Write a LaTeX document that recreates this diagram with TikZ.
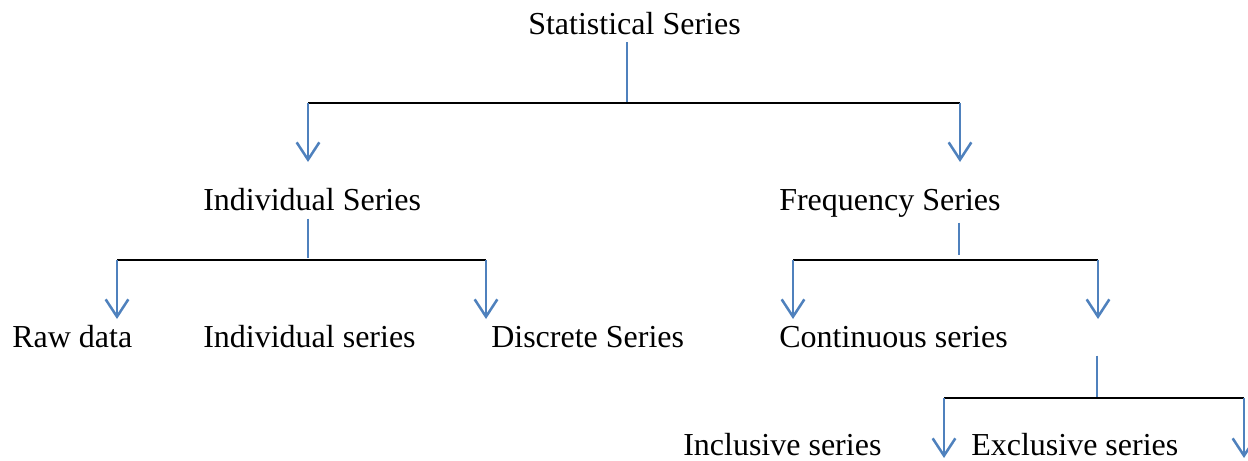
\documentclass[tikz,border=0pt]{standalone}
\usepackage{fontspec}
\setmainfont{Liberation Serif}
\usetikzlibrary{arrows.meta}
\definecolor{lineblue}{HTML}{4F81BD}
\tikzset{
  lbl/.style={anchor=base west, inner sep=0pt, font=\fontsize{24}{28}\selectfont},
  stem/.style={draw=lineblue, line width=1.9pt},
  bar/.style={draw=black, line width=1.5pt},
  down/.style={draw=lineblue, line width=1.9pt, -{Straight Barb[length=13pt,width=17pt]}},
}
\begin{document}
\begin{tikzpicture}[x=0.75pt,y=-0.75pt]
\useasboundingbox (0,0) rectangle (1248,460);
% texts
\node[lbl] (stat) at (528,35) {Statistical Series};
\node[lbl] (indS) at (203,210) {Individual Series};
\node[lbl] (freq) at (779,210) {Frequency Series};
\node[lbl] (raw)  at (12,347) {Raw data};
\node[lbl] (inds) at (203,347) {Individual series};
\node[lbl] (disc) at (491,347) {Discrete Series};
\node[lbl] (cont) at (779,347) {Continuous series};
\node[lbl, text depth=0pt] (incl) at (683,455) {Inclusive series};
\node[lbl, text depth=0pt] (excl) at (971,455) {Exclusive series};
% junction coordinates
\coordinate (j1) at (627,103);
\coordinate (j1l) at (308,103);
\coordinate (j1r) at (960,103);
\coordinate (a1l) at (308,162);
\coordinate (a1r) at (960,162);
\coordinate (j2) at (308,260);
\coordinate (j2l) at (117,260);
\coordinate (j2r) at (486,260);
\coordinate (a2l) at (117,319);
\coordinate (a2r) at (486,319);
\coordinate (j3) at (959,260);
\coordinate (j3l) at (793,260);
\coordinate (j3r) at (1098,260);
\coordinate (a3l) at (793,319);
\coordinate (a3r) at (1098,319);
\coordinate (j4) at (1097,398);
\coordinate (j4l) at (944,398);
\coordinate (j4r) at (1244,398);
\coordinate (a4l) at (944,458);
\coordinate (a4r) at (1244,458);
% level 1
\draw[stem, shorten <=5pt] (stat.south -| j1) -- (j1);
\draw[bar] (j1l) -- (j1r);
\draw[down] (j1l) -- (a1l);
\draw[down] (j1r) -- (a1r);
% level 2 left
\draw[stem, shorten <=6pt] (indS.south -| j2) -- ([yshift=1.5pt]j2);
\draw[bar] (j2l) -- (j2r);
\draw[down] (j2l) -- (a2l);
\draw[down] (j2r) -- (a2r);
% level 2 right
\draw[stem, shorten <=4pt] (freq.south -| j3) -- ([yshift=3.5pt]j3);
\draw[bar] (j3l) -- (j3r);
\draw[down] (j3l) -- (a3l);
\draw[down] (j3r) -- (a3r);
% level 3
\draw[stem, shorten <=6pt] (cont.south -| j4) -- (j4);
\draw[bar] (j4l) -- (j4r);
\draw[down] (j4l) -- (a4l);
\draw[down] (j4r) -- (a4r);
\end{tikzpicture}
\end{document}
